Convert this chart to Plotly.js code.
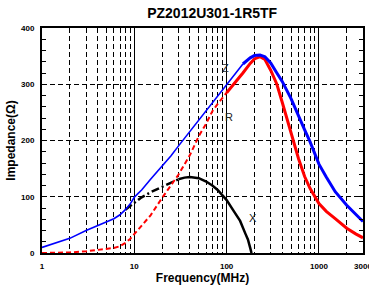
<!DOCTYPE html>
<html>
<head>
<meta charset="utf-8">
<script src="https://cdn.plot.ly/plotly-3.0.1.min.js"></script>
<style>html,body{margin:0;padding:0;background:#fff;}#chart{width:369px;height:292px;}</style>
</head>
<body>
<div id="chart"></div>
<script>
// Z (blue)
var freqZ = [1,1.5,2,3,4,5,6,7,8,9,10,11,12,15,20,25,30,40,50,60,70,80,100,120,150];
var zLow  = [10,19,26,40,49,55,61,68,77,87,99,106,112,131,154,173,190,216,236,253,267,280,299,317,336];
var freqZHigh = [150,180,200,230,260,300,350,400,500,600,700,800,1000,1200,1500,2000,2500,3000];
var zHigh = [336,347,351,352,349,338,320,305,274,243,219,198,158,135,109,85,69,56];
// R (red): dashed low part, solid high part
var freqRLow = [1,2,3,4,5,6,7,8,9,10,12,15,20,25,30,40,50,60,70,80,100];
var rLow = [0,1,3,5,7,9,12,18,25,34,48,67,98,121,139,174,208,230,252,265,285];
var freqRHigh = [100,120,150,180,200,230,260,300,350,400,450,500,600,700,800,1000,1200,1500,2000,2500,3000];
var rHigh = [285,300,320,337,345,349,344,325,300,268,238,210,168,136,115,88,74,61,44,34,27];
// X (black): dash-dot low part, solid high part
var freqXLow = [8,10,12,15,20,25,30];
var xLow = [77,90,99,108,118,125,131];
var freqXHigh = [30,35,40,50,60,70,80,100,120,140,160,170,180,186];
var xHigh = [131,134,135,133,127,120,112,94,74,57,34,24,9,0];
// axis ticks
var xTickVals = [1,10,100,1000,3000];
var xTickText = ['1','10','100','1000','3000'];
var xMinorVals = [2,3,4,5,6,7,8,9,20,30,40,50,60,70,80,90,200,300,400,500,600,700,800,900,2000];
var yTickVals = [0,100,200,300,400];
var yTickText = ['0','100','200','300','400'];
// curve labels
var labelText = ['Z','R','X'];
var labelFreq = [97,107,192];
var labelVal = [329,242,62];

var traces = [
  {x:freqXLow, y:xLow, mode:'lines', line:{color:'#000', width:2.5, dash:'8px,3px,2px,3px'}},
  {x:freqXHigh, y:xHigh, mode:'lines', line:{color:'#000', width:2.5}},
  {x:freqRLow, y:rLow, mode:'lines', line:{color:'#ff0000', width:2, dash:'5px,3px'}},
  {x:freqRHigh, y:rHigh, mode:'lines', line:{color:'#ff0000', width:3}},
  {x:freqZ, y:zLow, mode:'lines', line:{color:'#0000ff', width:1.6}},
  {x:freqZHigh, y:zHigh, mode:'lines', line:{color:'#0000ff', width:3}}
];

var tickFont = {family:'Liberation Sans, Arial, sans-serif', size:8, color:'#000'};
var bold = function(a){return a.map(function(s){return '<b>'+s+'</b>';});};

var annotations = labelText.map(function(t,i){
  return {x:Math.log10(labelFreq[i]), y:labelVal[i], xref:'x', yref:'y', text:t, showarrow:false,
          font:{family:'Liberation Sans, Arial, sans-serif', size:11, color:'#222'}};
});

var layout = {
  width:369, height:292,
  margin:{l:42, r:6, t:28, b:39, pad:0},
  paper_bgcolor:'#fff', plot_bgcolor:'#fff',
  showlegend:false,
  title:{text:'<b>PZ2012U301-1R5TF</b>', font:{family:'Liberation Sans, Arial, sans-serif', size:14, color:'#000'},
         x:0.575, xanchor:'center', xref:'container', y:0.955, yanchor:'middle', yref:'container'},
  xaxis:{type:'log', range:[0, 3.4772], tickmode:'array', tickvals:xTickVals, ticktext:bold(xTickText),
         tickfont:tickFont, showgrid:true, gridcolor:'#000', gridwidth:1, zeroline:false,
         showline:true, linecolor:'#000', linewidth:2, mirror:true, ticks:'', ticklabelstandoff:4,
         ticklabeloverflow:'allow',
         minor:{tickmode:'array', tickvals:xMinorVals, showgrid:true, gridcolor:'#000', gridwidth:1, griddash:'5px,3px', ticks:''},
         title:{text:'<b>Frequency(MHz)</b>', font:{family:'Liberation Sans, Arial, sans-serif', size:12, color:'#000'}, standoff:4},
         automargin:false, fixedrange:true},
  yaxis:{range:[0,400], tickmode:'array', tickvals:yTickVals, ticktext:bold(yTickText), tickfont:tickFont,
         showgrid:true, gridcolor:'#000', gridwidth:1, griddash:'5px,3px', zeroline:false,
         showline:true, linecolor:'#000', linewidth:2, mirror:'allticks', ticks:'inside', ticklen:5, tickcolor:'#000',
         ticklabelstandoff:4,
         minor:{dtick:20, ticks:'inside', ticklen:4, tickcolor:'#000', showgrid:false},
         title:{text:'<b>Impedance(Ω)</b>', font:{family:'Liberation Sans, Arial, sans-serif', size:12, color:'#000'}, standoff:3},
         automargin:false, fixedrange:true},
  annotations:annotations
};

Plotly.newPlot('chart', traces, layout, {staticPlot:true, displayModeBar:false});
</script>
</body>
</html>
